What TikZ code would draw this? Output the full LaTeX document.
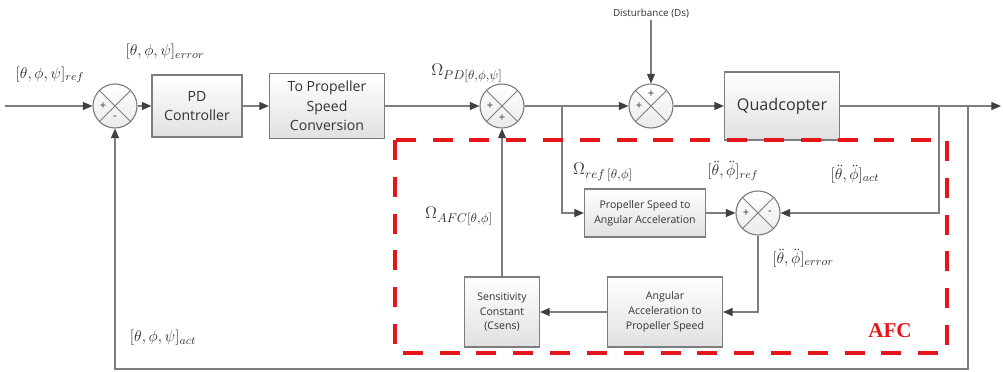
\documentclass[tikz,border=0pt]{standalone}
\usepackage{fontspec}
\setmainfont{Open Sans}
\newfontfamily\afcfont{Liberation Serif}
\usetikzlibrary{arrows.meta,positioning}

\definecolor{afcred}{RGB}{228,22,28}
\definecolor{linka}{RGB}{125,125,125}

\tikzset{
  blok/.style={draw=linka, line width=0.8pt, top color=white, bottom color=black!12,
    align=center, inner sep=2pt, text=black!80, font=\fontsize{10}{14}\selectfont},
  blokm/.style={blok, font=\fontsize{7.5}{10.5}\selectfont},
  suma/.style={circle, draw=linka, line width=0.8pt, top color=white, bottom color=black!8,
    minimum size=1.1cm, inner sep=0pt,
    path picture={
      \draw[linka, line width=0.7pt] (path picture bounding box.north west) -- (path picture bounding box.south east);
      \draw[linka, line width=0.7pt] (path picture bounding box.north east) -- (path picture bounding box.south west);}},
  znak/.style={inner sep=0pt, text=black!80, font=\fontsize{8}{8}\selectfont},
  spoj/.style={draw=linka, line width=0.8pt, -{Triangle[length=2.4mm,width=2mm,color=black!75]}},
  popis/.style={inner sep=1pt, text=black!80, font=\fontsize{11}{12}\selectfont},
  popisO/.style={popis, font=\fontsize{12.5}{13}\selectfont},
}

\begin{document}
\begin{tikzpicture}[x=0.025cm, y=-0.025cm]
        \useasboundingbox (0,0) rectangle (1003,372);

        % hlavni vetev
        \coordinate (vstup) at (5,106);
        \node[suma] (s1) at (115,106) {};
        \node[blok, minimum width=2.25cm, minimum height=1.55cm] (pd) at (197,106) {PD\\Controller};
        \node[blok, minimum width=2.875cm, minimum height=1.625cm] (tp) at (327,106) {To Propeller\\Speed\\Conversion};
        \node[suma] (s2) at (502,106) {};
        \node[suma] (s3) at (651,106) {};
        \node[blok, minimum width=2.875cm, minimum height=1.7cm, font=\fontsize{11.5}{14}\selectfont] (quad) at (782,106) {Quadcopter};
        \coordinate (vystup) at (1001,106);
        \node[inner sep=1pt, text=black!80, font=\fontsize{7}{8}\selectfont] (dist) at (651,14) {Disturbance (Ds)};

        % AFC bloky
        \node[blokm, minimum width=3.025cm, minimum height=1.2cm] (ps) at (645,213) {Propeller Speed to\\Angular Acceleration};
        \node[suma] (s4) at (758,213) {};
        \node[blokm, minimum width=2.875cm, minimum height=1.75cm] (aa) at (665,312) {Angular\\Acceleration to\\Propeller Speed};
        \node[blokm, minimum width=1.875cm, minimum height=1.75cm] (sens) at (502,312) {Sensitivity\\Constant\\(Csens)};

        % znaminka
        \node[znak] at ([xshift=-0.3cm]s1.center) {+};
        \node[znak] at ([yshift=-0.3cm]s1.center) {-};
        \node[znak] at ([xshift=-0.3cm]s2.center) {+};
        \node[znak] at ([yshift=-0.3cm]s2.center) {+};
        \node[znak] at ([xshift=-0.3cm]s3.center) {+};
        \node[znak] at ([yshift=0.3cm]s3.center) {+};
        \node[znak] at ([xshift=-0.3cm]s4.center) {+};
        \node[znak] at ([xshift=0.3cm]s4.center) {-};

        % spoje
        \draw[spoj] (vstup) -- (s1);
        \draw[spoj] (s1) -- (pd);
        \draw[spoj] (pd) -- (tp);
        \draw[spoj] (tp) -- (s2);
        \draw[spoj] (s2) -- (s3);
        \draw[spoj] (dist) -- (s3);
        \draw[spoj] (s3) -- (quad);
        \draw[spoj] (quad) -- (vystup);

        % odbocky
        \coordinate (b1) at (562,106);
        \coordinate (b2) at (939,106);
        \coordinate (b3) at (968,106);
        \coordinate (dole) at (968,369);
        \draw[spoj] (b1) |- (ps);
        \draw[spoj] (ps) -- (s4);
        \draw[spoj] (b2) |- (s4);
        \draw[spoj] (s4) |- (aa);
        \draw[spoj] (aa) -- (sens);
        \draw[spoj] (sens) -- (s2);
        \draw[spoj] (b3) -- (dole) -| (s1);

        % popisky
        \node[popis] (lref) at (50,75) {$[\theta,\phi,\psi]_{ref}$};
        \node[popis] (lerr) at (165,52) {$[\theta,\phi,\psi]_{error}$};
        \node[popisO] (lpd) at (467,73) {$\Omega_{PD[\theta,\phi,\psi]}$};
        \node[popisO] (lrefo) at (603,172) {$\Omega_{ref\,[\theta,\phi]}$};
        \node[popisO] (lafc) at (459,216) {$\Omega_{AFC[\theta,\phi]}$};
        \node[popis] (lddr) at (733,171) {$[\ddot\theta,\ddot\phi]_{ref}$};
        \node[popis] (ldda) at (855,174) {$[\ddot\theta,\ddot\phi]_{act}$};
        \node[popis] (ldde) at (803,258) {$[\ddot\theta,\ddot\phi]_{error}$};
        \node[popis] (lact) at (163,338) {$[\theta,\phi,\psi]_{act}$};

        % AFC ramecek
        \draw[afcred, line width=3.5pt, dash pattern=on 0.5cm off 0.42cm] (395,140) rectangle (947,353);
        \node[text=afcred, font=\afcfont\bfseries\fontsize{15}{16}\selectfont] (afc) at (890,331) {AFC};
\end{tikzpicture}
\end{document}
